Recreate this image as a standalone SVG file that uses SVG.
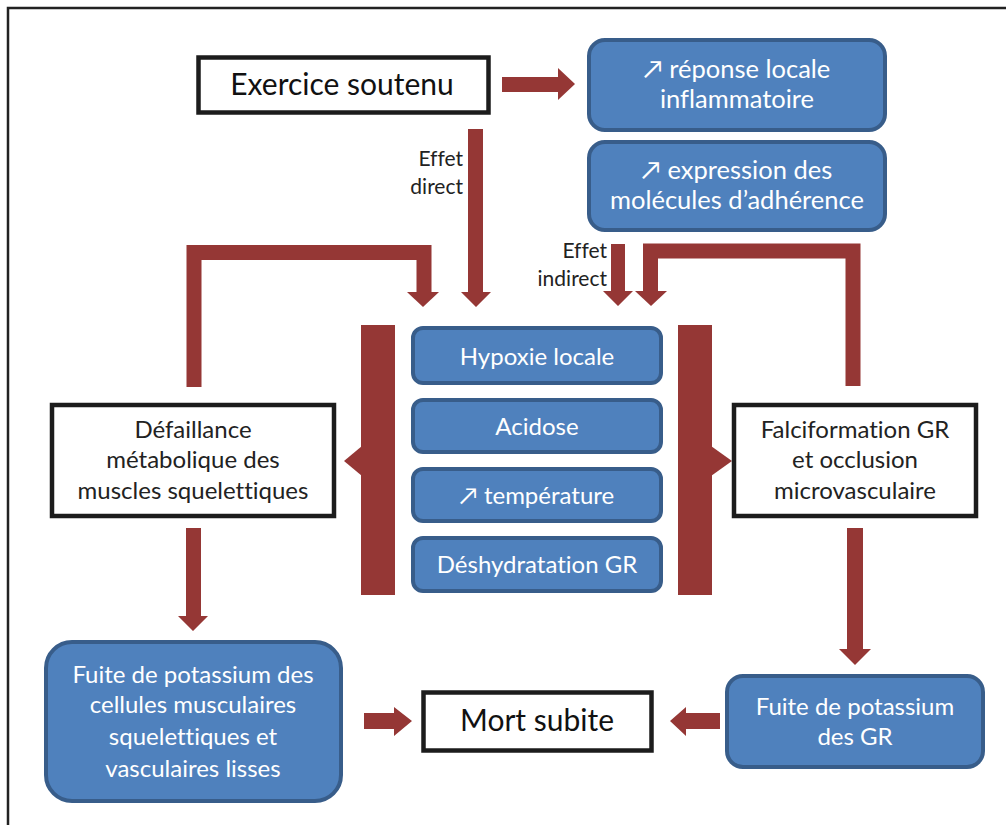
<svg xmlns="http://www.w3.org/2000/svg" width="1006" height="825" viewBox="0 0 1006 825">
<defs>
<style>
.wbox{fill:#fff;stroke:#1c1c1c;stroke-width:4.5}
.bbox{fill:#4f81bd;stroke:#385d8a;stroke-width:4}
.arr{fill:#953735}
.bar{fill:none;stroke:#953735;stroke-width:15;stroke-linejoin:miter}
text{font-family:Lato,"Open Sans","DejaVu Sans",sans-serif;text-anchor:middle;font-variant-ligatures:none}
.dt{fill:#222;font-size:24px}
.lt{fill:#fff;font-size:24px}
.tt{fill:#fff;font-size:25.5px}
.big{fill:#111;font-size:30px}
.lab{fill:#222;font-size:21px;text-anchor:end}
</style>
</defs>
<rect width="1006" height="825" fill="#fff"/>
<path d="M8,825 V8 H1006" fill="none" stroke="#222" stroke-width="2.5"/>

<g id="connectors">
  <!-- Exercice -> réponse -->
  <polygon class="arr" points="502,77 558,77 558,68 575,84 558,100 558,92 502,92"/>
  <!-- Effet direct -->
  <polygon class="arr" points="468,129 483,129 483,292 491,292 476,307 461,292 468,292"/>
  <!-- left loop -->
  <path class="bar" d="M194,387 V252.5 H424 V293"/>
  <polygon class="arr" points="407,292 439,292 423,307"/>
  <!-- Effet indirect -->
  <polygon class="arr" points="611,244 625,244 625,291 633,291 618,306 603,291 611,291"/>
  <!-- right loop -->
  <path class="bar" d="M853,386 V251 H650.5 V292"/>
  <polygon class="arr" points="635,291 667,291 651,306"/>
  <!-- left bar -->
  <rect class="arr" x="361" y="325" width="34" height="270"/>
  <polygon class="arr" points="362,446 344,461 362,476"/>
  <!-- right bar -->
  <rect class="arr" x="678" y="325" width="34" height="270"/>
  <polygon class="arr" points="711,446 732,461 711,476"/>
  <!-- Défaillance -> Fuite -->
  <polygon class="arr" points="186,528 201,528 201,616 208,616 193,631 178,616 186,616"/>
  <!-- Falciformation -> Fuite GR -->
  <polygon class="arr" points="847,528 863,528 863,649 871,649 855,665 839,649 847,649"/>
  <!-- Fuite -> Mort -->
  <polygon class="arr" points="364,713 394,713 394,707 412,721 394,736 394,729 364,729"/>
  <!-- Fuite GR -> Mort -->
  <polygon class="arr" points="720,713 686,713 686,707 670,721 686,736 686,729 720,729"/>
  <text class="lab" x="463" y="166">Effet</text>
  <text class="lab" x="463" y="194">direct</text>
  <text class="lab" x="607" y="258">Effet</text>
  <text class="lab" x="607" y="286">indirect</text>
</g>

<g id="exercice">
  <rect class="wbox" x="198.5" y="57.5" width="290" height="55"/>
  <text class="big" x="342" y="95">Exercice soutenu</text>
</g>
<g id="reponse">
  <rect class="bbox" x="589" y="40" width="296" height="90" rx="16"/>
  <text class="tt" x="737" y="78">↗ réponse locale</text>
  <text class="tt" x="737" y="108">inflammatoire</text>
</g>
<g id="expression">
  <rect class="bbox" x="589" y="142" width="296" height="88" rx="16"/>
  <text class="tt" x="737" y="179">↗  expression des</text>
  <text class="tt" x="737" y="209">molécules d’adhérence</text>
</g>
<g id="hypoxie">
  <rect class="bbox" x="413" y="328" width="248" height="55" rx="10"/>
  <text class="lt" x="537" y="365">Hypoxie locale</text>
</g>
<g id="acidose">
  <rect class="bbox" x="413" y="400" width="248" height="52" rx="10"/>
  <text class="lt" x="537" y="435">Acidose</text>
</g>
<g id="temperature">
  <rect class="bbox" x="413" y="469" width="248" height="52" rx="10"/>
  <text class="lt" x="537" y="504">↗ température</text>
</g>
<g id="deshydratation">
  <rect class="bbox" x="413" y="538" width="248" height="53" rx="10"/>
  <text class="lt" x="537" y="573">Déshydratation GR</text>
</g>
<g id="defaillance">
  <rect class="wbox" x="52" y="405" width="282" height="111"/>
  <text class="dt" x="193" y="438">Défaillance</text>
  <text class="dt" x="193" y="468">métabolique des</text>
  <text class="dt" x="193" y="499">muscles squelettiques</text>
</g>
<g id="falciformation">
  <rect class="wbox" x="734" y="405" width="242" height="111"/>
  <text class="dt" x="855" y="438">Falciformation GR</text>
  <text class="dt" x="855" y="468">et occlusion</text>
  <text class="dt" x="855" y="499">microvasculaire</text>
</g>
<g id="fuite-muscle">
  <rect class="bbox" x="46" y="642" width="295" height="159" rx="26"/>
  <text class="lt" x="193" y="683">Fuite de potassium des</text>
  <text class="lt" x="193" y="713">cellules musculaires</text>
  <text class="lt" x="193" y="745">squelettiques et</text>
  <text class="lt" x="193" y="777">vasculaires lisses</text>
</g>
<g id="mort">
  <rect class="wbox" x="423.5" y="692.5" width="228" height="58"/>
  <text class="big" x="537" y="731">Mort subite</text>
</g>
<g id="fuite-gr">
  <rect class="bbox" x="727" y="676" width="256" height="91" rx="16"/>
  <text class="lt" x="855" y="715">Fuite de potassium</text>
  <text class="lt" x="855" y="745">des GR</text>
</g>
</svg>
